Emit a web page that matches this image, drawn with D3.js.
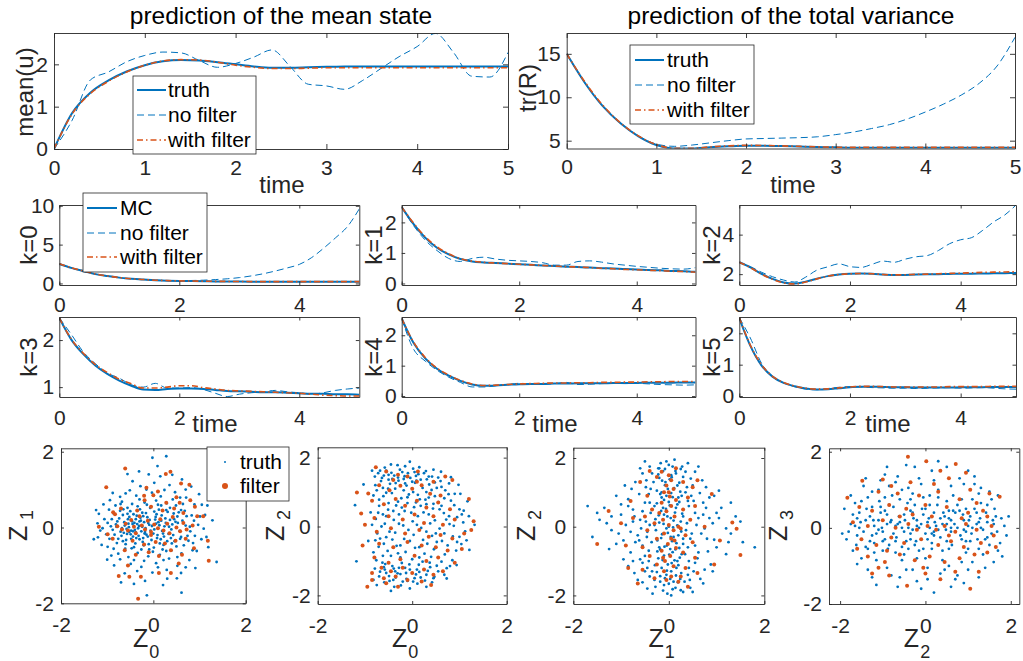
<!DOCTYPE html>
<html>
<head>
<meta charset="utf-8">
<script src="https://cdn.jsdelivr.net/npm/d3@7"></script>
<style>
body { margin: 0; background: #fff; }
svg { font-family: "Liberation Sans", Arial, sans-serif; }
</style>
</head>
<body>
<svg width="1023" height="661"></svg>
<script>
// ---- data ----
const time = [0,0.2,0.4,0.6,0.8,1,1.2,1.4,1.6,1.8,2,2.2,2.4,2.6,2.8,3,3.2,3.4,3.6,3.8,4,4.2,4.4,4.6,4.8,5];

const meanTruth    = [0,0.85,1.33,1.62,1.83,1.98,2.07,2.1,2.09,2.05,2.0,1.95,1.92,1.92,1.93,1.94,1.95,1.95,1.95,1.95,1.95,1.95,1.95,1.95,1.95,1.95];
const meanNoFilter = [0,0.68,1.63,1.82,2.06,2.21,2.29,2.27,2.09,1.93,2.02,2.17,2.34,1.95,1.53,1.49,1.41,1.62,1.9,2.18,2.42,2.73,2.28,1.72,1.7,2.28];
const meanFilter   = [0,0.83,1.31,1.6,1.82,1.98,2.08,2.11,2.1,2.05,1.98,1.93,1.9,1.9,1.91,1.92,1.92,1.92,1.92,1.92,1.92,1.92,1.92,1.92,1.92,1.92];

const trTruth    = [15,11.7,9.0,7.0,5.5,4.5,4.1,4.1,4.25,4.35,4.42,4.42,4.38,4.32,4.27,4.23,4.2,4.2,4.2,4.2,4.2,4.2,4.2,4.2,4.2,4.2];
const trNoFilter = [15,11.7,9.0,7.0,5.55,4.6,4.35,4.5,4.75,5.0,5.2,5.25,5.3,5.35,5.45,5.7,6.0,6.4,6.85,7.5,8.3,9.2,10.25,11.6,13.6,16.9];
const trFilter   = [15,11.8,9.1,7.05,5.55,4.55,4.12,4.12,4.28,4.4,4.46,4.45,4.4,4.34,4.29,4.25,4.23,4.23,4.23,4.23,4.23,4.23,4.23,4.23,4.23,4.23];

const k0MC       = [2.5,2.0,1.6,1.2,0.95,0.75,0.6,0.5,0.42,0.36,0.32,0.3,0.28,0.26,0.25,0.24,0.23,0.22,0.22,0.22,0.22,0.22,0.22,0.22,0.22,0.22];
const k0NoFilter = [2.5,2.0,1.55,1.2,0.95,0.75,0.6,0.5,0.42,0.37,0.35,0.38,0.42,0.5,0.6,0.75,0.97,1.25,1.6,2.0,2.45,3.3,4.5,5.85,7.3,9.6];
const k0Filter   = [2.55,2.02,1.6,1.22,0.96,0.76,0.6,0.5,0.42,0.37,0.33,0.31,0.29,0.27,0.26,0.25,0.24,0.24,0.24,0.24,0.24,0.24,0.24,0.24,0.24,0.24];

const k1MC       = [2.5,1.95,1.5,1.17,0.95,0.8,0.72,0.69,0.67,0.65,0.63,0.61,0.59,0.57,0.55,0.54,0.52,0.5,0.49,0.47,0.46,0.44,0.43,0.41,0.4,0.38];
const k1NoFilter = [2.5,1.9,1.42,1.08,0.82,0.72,0.82,0.86,0.8,0.76,0.74,0.72,0.68,0.6,0.6,0.72,0.74,0.7,0.64,0.6,0.56,0.53,0.5,0.48,0.47,0.52];
const k1Filter   = [2.5,1.98,1.53,1.2,0.97,0.81,0.73,0.69,0.67,0.65,0.63,0.61,0.59,0.57,0.55,0.54,0.52,0.5,0.48,0.46,0.45,0.43,0.42,0.4,0.39,0.37];

const k2MC       = [2.6,2.34,2.02,1.76,1.58,1.52,1.62,1.77,1.9,1.98,2.02,2.03,2.02,1.98,1.95,1.96,1.98,1.99,2.0,2.01,2.02,2.02,2.03,2.04,2.05,2.06];
const k2NoFilter = [2.6,2.38,2.1,1.87,1.7,1.6,1.85,2.2,2.37,2.52,2.38,2.34,2.5,2.66,2.6,2.76,2.88,2.94,3.2,3.54,3.74,3.85,4.22,4.65,5.0,5.5];
const k2Filter   = [2.6,2.33,2.0,1.74,1.56,1.5,1.6,1.76,1.9,1.98,2.02,2.03,2.02,1.98,1.96,1.97,1.99,2.0,2.02,2.04,2.05,2.07,2.09,2.1,2.11,2.12];

const k3MC       = [2.47,2.01,1.7,1.46,1.28,1.14,1.03,0.95,0.94,0.96,0.97,0.97,0.96,0.94,0.92,0.91,0.9,0.89,0.89,0.88,0.87,0.86,0.86,0.85,0.85,0.84];
const k3NoFilter = [2.47,2.12,1.75,1.5,1.3,1.19,1.05,1.0,1.08,0.98,0.98,0.99,0.95,0.87,0.8,0.85,0.88,0.9,0.93,0.9,0.88,0.85,0.88,0.93,0.96,0.98];
const k3Filter   = [2.47,2.02,1.72,1.48,1.31,1.17,1.07,0.98,0.98,1.0,1.03,1.03,0.99,0.96,0.93,0.92,0.91,0.9,0.89,0.88,0.87,0.85,0.83,0.82,0.81,0.81];

const k4MC       = [2.55,1.75,1.24,0.9,0.67,0.5,0.38,0.34,0.35,0.37,0.39,0.4,0.4,0.41,0.41,0.42,0.42,0.42,0.43,0.43,0.43,0.44,0.44,0.44,0.45,0.45];
const k4NoFilter = [2.55,1.55,1.15,0.85,0.62,0.45,0.3,0.3,0.34,0.38,0.42,0.4,0.38,0.41,0.45,0.38,0.39,0.41,0.42,0.41,0.42,0.4,0.38,0.37,0.36,0.37];
const k4Filter   = [2.55,1.78,1.27,0.92,0.69,0.52,0.4,0.35,0.36,0.38,0.4,0.41,0.42,0.43,0.43,0.44,0.44,0.45,0.45,0.46,0.46,0.47,0.47,0.48,0.48,0.48];

const k5MC       = [2.48,1.6,0.98,0.62,0.42,0.31,0.24,0.21,0.22,0.25,0.28,0.3,0.3,0.29,0.28,0.28,0.27,0.27,0.27,0.27,0.28,0.28,0.28,0.29,0.29,0.29];
const k5NoFilter = [2.5,1.85,1.05,0.62,0.42,0.3,0.22,0.2,0.24,0.28,0.3,0.29,0.27,0.26,0.25,0.25,0.24,0.25,0.26,0.27,0.25,0.26,0.27,0.25,0.23,0.22];
const k5Filter   = [2.5,1.62,1.0,0.63,0.43,0.32,0.25,0.22,0.23,0.26,0.29,0.31,0.31,0.3,0.29,0.29,0.29,0.29,0.29,0.3,0.3,0.3,0.3,0.31,0.31,0.31];

// scatter samples [x, y]
const z01Truth = [[-0.62,0.05],[-0.48,-0.08],[-0.41,0.12],[-0.33,-0.02],[-0.27,0.18],[-0.18,-0.12],[-0.09,0.07],[0.02,-0.05],[0.11,0.14],[0.19,-0.09],
[-0.71,-0.11],[-0.55,0.22],[-0.44,-0.24],[-0.36,0.31],[-0.22,-0.28],[-0.13,0.27],[-0.04,-0.33],[0.07,0.35],[0.16,-0.31],[0.26,0.24],
[0.33,-0.17],[-0.66,0.33],[-0.78,0.16],[-0.84,-0.19],[-0.59,-0.33],[-0.5,0.43],[-0.39,-0.42],[-0.29,0.48],[-0.21,-0.47],[-0.07,0.52],
[0.01,-0.53],[0.12,0.47],[0.22,-0.46],[0.31,0.41],[0.41,0.08],[0.46,-0.36],[0.52,0.29],[0.57,-0.09],[0.63,0.18],[-0.92,0.03],
[-0.86,0.37],[-0.46,0.62],[-0.19,0.66],[0.06,0.71],[0.29,0.64],[0.49,0.58],[0.68,0.44],[0.74,-0.22],[0.66,-0.47],[0.39,-0.61],
[0.14,-0.72],[-0.11,-0.76],[-0.34,-0.67],[-0.61,-0.56],[-0.79,-0.41],[-1.02,-0.18],[-1.06,0.22],[-0.96,0.47],[-0.53,0.01],[-0.38,-0.13],
[-0.24,0.02],[-0.15,-0.19],[0.04,0.21],[-0.68,-0.02],[-0.57,-0.17],[-0.45,0.09],[-0.3,-0.31],[0.24,0.03],[0.38,-0.28],[0.44,0.37],
[-1.21,0.11],[-1.12,-0.46],[-0.91,-0.74],[-0.72,0.81],[-0.51,0.98],[-0.28,1.09],[0.02,1.18],[0.24,0.99],[0.47,0.93],[0.71,0.79],
[0.89,0.61],[1.01,0.29],[1.09,-0.03],[1.04,-0.31],[0.94,-0.62],[0.78,-0.86],[0.52,-1.01],[0.29,-1.12],[-0.02,-1.19],[-0.26,-1.04],
[-0.49,-0.96],[-0.76,-0.69],[1.19,-0.52],[1.28,0.19],[1.37,-0.91],[-1.29,-0.31],[-0.31,1.48],[0.09,1.62],[0.41,1.39],[-0.56,1.41],
[-0.18,-1.41],[0.21,-1.52],[-0.42,-1.49],[0.51,-1.34],[0.82,1.08],[0.99,0.88],[-0.88,0.91],[-1.08,0.61],[0.62,1.27],[-0.62,-1.21],
[0.91,-1.07],[1.17,0.58],[-1.24,0.46],[0.28,1.88],[-0.14,-1.79],[0.61,-1.72],[-0.02,1.84],[0.83,0.32],[0.79,0.02],[0.86,-0.41],
[0.58,0.79],[-0.03,0.92],[-0.37,0.84],[-0.71,0.62],[-0.99,-0.51],[-0.42,-0.86],[0.06,-0.94],[0.34,-0.82],[0.61,-0.68],[0.97,0.07],
[-0.65,0.48],[-0.24,0.39],[0.17,0.58],[0.53,0.12],[0.28,-0.62],[-0.09,-0.58],[-0.47,-0.55],[-0.82,0.58],[1.12,0.33],[-1.15,-0.08],
[-0.88,-0.06],[-0.81,0.08],[-0.74,0.24],[-0.69,-0.22],[-0.63,0.14],[-0.58,-0.04],[-0.52,0.28],[-0.49,-0.18],[-0.43,0.35],[-0.4,-0.06],
[-0.35,0.09],[-0.32,-0.22],[-0.28,0.26],[-0.26,-0.1],[-0.2,0.14],[-0.17,-0.02],[-0.12,-0.24],[-0.08,0.2],[-0.03,0.04],[0.0,-0.16],
[0.05,0.28],[0.09,-0.2],[0.13,0.06],[0.18,0.32],[0.21,-0.16],[0.27,0.12],[0.3,-0.36],[0.36,0.2],[0.39,-0.05],[0.43,-0.2],
[0.48,0.15],[0.55,0.4],[0.6,-0.25],[0.7,0.05],[-0.95,-0.3],[-0.9,0.22],[-0.76,-0.3],[-0.72,0.44],[-0.6,-0.44],[-0.56,0.52],
[-0.42,-0.52],[-0.34,0.56],[-0.26,-0.58],[-0.14,0.6],[-0.01,-0.64],[0.1,0.6],[0.2,-0.58],[0.36,0.52],[0.5,-0.5],[0.6,0.46],
[0.72,0.3],[0.8,-0.1],[0.76,-0.35],[0.58,-0.3],[-0.99,0.12],[-1.1,-0.02],[-0.86,-0.56],[-0.68,0.68],[-0.3,0.74],[0.16,0.82],
[0.42,0.74],[0.64,0.62],[0.88,0.18],[0.9,-0.22],[0.52,-0.78],[0.22,-0.86],[-0.2,-0.88],[-0.54,-0.78],[-0.72,-0.84],[-0.94,0.72],
[-1.18,0.36],[-1.2,-0.26],[-0.6,0.9],[-0.15,1.0],[0.35,1.12],[0.7,1.0],[1.05,0.6],[1.15,-0.25],[0.7,-1.05],[0.1,-1.05],
[-0.35,-1.15],[-0.85,-1.0],[-0.45,1.22],[0.15,1.35],[0.85,-0.6],[-1.0,-0.85],[0.3,-1.35],[-0.1,1.4],[0.6,-1.2],[-0.7,-1.45],
[-0.52,-0.12],[-0.46,0.16],[-0.37,-0.28],[-0.31,0.04],[-0.23,-0.38],[-0.16,0.38],[-0.06,-0.08],[0.06,0.1],[0.14,-0.42],[0.28,0.46],
[-0.64,-0.14],[-0.54,0.1],[-0.48,-0.3],[-0.38,0.22],[-0.19,-0.16],[-0.11,0.12],[0.08,-0.28],[0.17,0.18],[0.34,0.02],[0.45,0.22],
[-0.8,0.02],[-0.66,-0.36],[-0.56,0.36],[-0.44,-0.1],[-0.3,0.16],[-0.22,0.3],[-0.1,-0.44],[0.02,0.42],[0.23,-0.24],[0.4,-0.42]];
const z01Filter = [[-0.61,1.56],[-1.02,1.06],[0.27,1.41],[0.37,1.47],[0.6,1.16],[0.78,1.13],[-0.2,0.84],[-0.19,0.72],[0.0,0.85],[0.5,0.8],
[0.57,0.65],[0.8,0.72],[0.9,0.55],[1.08,0.3],[0.95,0.3],[-0.87,0.4],[-0.83,0.35],[-1.18,0.02],[-0.99,-0.18],[-0.78,0.03],
[-0.68,-0.05],[-0.6,0.1],[-0.55,-0.08],[-0.48,0.2],[-0.42,0.02],[-0.38,-0.15],[-0.3,0.3],[-0.25,0.05],[-0.18,-0.05],[-0.12,0.18],
[-0.05,-0.12],[0.02,0.08],[0.1,-0.02],[0.15,0.22],[0.22,-0.08],[0.3,0.1],[0.35,-0.15],[0.42,0.28],[0.5,0.0],[0.58,-0.1],
[0.65,0.12],[0.72,-0.05],[0.85,0.05],[-0.35,0.45],[-0.05,0.55],[0.2,0.45],[0.45,0.5],[-0.45,-0.35],[-0.2,-0.45],[0.05,-0.38],
[0.25,-0.42],[0.48,-0.35],[0.7,-0.3],[-0.62,-0.6],[-0.38,-0.72],[-0.1,-0.65],[0.12,-0.75],[0.38,-0.6],[0.62,-0.72],[0.88,-0.55],
[1.2,-0.88],[1.18,-0.35],[-0.55,-1.0],[-0.75,-1.28],[-0.52,-1.3],[-0.27,-1.3],[0.12,-1.2],[0.38,-1.2],[0.55,-0.95],[-0.33,-1.88],
[-0.05,-0.2],[0.28,0.65],[-0.7,0.5],[0.1,0.95],[-0.15,1.05],[0.65,0.38],[-0.88,-0.3]];

const z02Truth = [[-0.72,1.55],[-0.55,1.62],[-0.38,1.48],[-0.21,1.58],[-0.04,1.41],[0.13,1.52],[0.31,1.37],[0.48,1.28],[-0.66,1.32],[-0.47,1.24],
[-0.29,1.33],[-0.12,1.19],[0.06,1.27],[0.22,1.12],[0.41,1.06],[0.62,1.15],[0.77,0.94],[-0.58,1.71],[-0.31,1.78],[0.02,1.68],
[0.29,1.61],[-0.75,1.05],[-0.61,0.88],[-0.43,0.97],[-0.23,0.82],[-0.07,0.93],[0.16,0.79],[0.35,0.84],[0.56,0.71],[0.89,0.62],
[-0.7,0.6],[-0.51,0.49],[-0.34,0.61],[-0.16,0.45],[0.04,0.56],[0.24,0.41],[0.44,0.52],[0.67,0.39],[0.95,0.27],[1.08,0.12],
[-0.77,0.22],[-0.58,0.08],[-0.39,0.19],[-0.19,0.03],[0.01,0.15],[0.19,-0.04],[0.38,0.09],[0.58,-0.06],[0.79,0.07],[1.12,-0.14],
[-0.74,-0.2],[-0.55,-0.31],[-0.36,-0.18],[-0.17,-0.36],[0.03,-0.24],[0.23,-0.39],[0.42,-0.27],[0.63,-0.42],[0.86,-0.29],[1.04,-0.51],
[-0.71,-0.59],[-0.52,-0.71],[-0.33,-0.56],[-0.14,-0.74],[0.06,-0.62],[0.26,-0.79],[0.46,-0.66],[0.69,-0.81],[0.93,-0.7],[-0.76,-0.98],
[-0.57,-1.09],[-0.39,-1.22],[-0.22,-1.06],[-0.05,-1.25],[0.14,-1.11],[0.33,-1.29],[0.52,-1.14],[0.73,-1.21],[-0.68,-1.31],[-0.49,-1.44],
[-0.31,-1.36],[-0.12,-1.52],[0.08,-1.39],[0.27,-1.57],[0.47,-1.46],[-0.59,-1.62],[-0.24,-1.71],[0.11,-1.66],[-0.82,-1.55],[-0.45,-1.87],
[-1.18,-1.01],[-1.21,0.62],[1.32,0.05],[1.21,-0.68],[1.17,0.73],[-1.03,1.22],[-0.93,-0.42],[-0.88,0.41],[0.98,1.21],[0.82,1.43],
[0.61,1.59],[-0.05,1.88],[0.73,-1.51],[0.94,-1.12],[1.09,0.46],[-0.64,1.41],[-0.42,1.38],[-0.16,1.46],[0.09,1.33],[-0.51,1.1],
[-0.36,-1.3],[-0.6,-1.18],[-0.15,-1.2],[0.05,-1.5],[-0.4,-1.55],[0.37,-1.05],[-0.68,-0.35],[0.12,0.3],[-0.28,0.35],[0.5,-0.2],
[0.3,0.65],[-0.45,-0.85],[0.55,1.42],[-0.1,0.68],[0.72,0.2],[-0.62,0.35],[0.15,-0.9],[-0.25,-0.9],[1.02,0.95],[0.85,-0.98],
[-0.79,1.45],[-0.68,1.62],[-0.6,1.48],[-0.5,1.36],[-0.44,1.56],[-0.35,1.26],[-0.26,1.65],[-0.18,1.38],[-0.09,1.55],[0.0,1.3],
[0.08,1.47],[0.18,1.36],[0.25,1.55],[0.36,1.22],[0.42,1.45],[0.52,1.12],[0.6,1.32],[0.7,1.05],[0.78,1.25],[0.9,0.95],
[-0.78,1.2],[-0.62,1.12],[-0.55,0.98],[-0.36,1.1],[-0.18,1.05],[0.02,1.0],[0.12,0.92],[0.3,1.0],[0.48,0.88],[0.68,0.82],
[-0.79,-1.22],[-0.7,-1.45],[-0.63,-1.05],[-0.55,-1.35],[-0.48,-1.58],[-0.42,-1.15],[-0.35,-1.48],[-0.28,-1.2],[-0.2,-1.6],[-0.13,-1.35],
[-0.06,-1.1],[0.02,-1.6],[0.1,-1.25],[0.18,-1.48],[0.22,-1.02],[0.3,-1.4],[0.38,-1.18],[0.42,-1.62],[0.55,-1.3],[0.62,-1.02],
[0.68,-1.4],[0.8,-1.15],[-0.75,-1.7],[-0.38,-1.75],[-0.05,-1.8],[0.3,-1.75],[-0.62,-0.85],[-0.3,-0.78],[0.0,-0.95],[0.4,-0.88],
[-0.78,-0.4],[-0.6,-0.5],[-0.42,-0.38],[-0.25,-0.55],[-0.05,-0.42],[0.15,-0.6],[0.32,-0.5],[0.52,-0.45],[0.75,-0.55],[0.95,-0.45],
[-0.65,0.0],[-0.48,-0.15],[-0.28,0.08],[-0.08,-0.1],[0.1,0.05],[0.3,-0.15],[0.48,0.18],[0.68,-0.2],[0.88,0.02],[1.0,-0.3],
[-0.72,0.4],[-0.55,0.3],[-0.4,0.45],[-0.22,0.55],[-0.02,0.4],[0.18,0.6],[0.35,0.35],[0.58,0.5],[0.78,0.3],[1.0,0.5],
[-0.7,0.78],[-0.5,0.68],[-0.3,0.72],[-0.1,0.85],[0.08,0.7],[0.28,0.78],[0.45,0.66],[0.62,0.6],[0.82,0.75],[1.05,0.35],
[-0.85,1.62],[-0.45,1.8],[-0.15,1.75],[0.15,1.72],[0.45,1.65],[-0.82,-0.75],[-0.85,0.05],[-0.82,0.9],[1.15,-0.4],[1.2,0.3],
[-0.5,1.5],[-0.3,1.42],[-0.15,1.25],[0.05,1.58],[0.35,1.45],[-0.58,-1.25],[-0.25,-1.38],[-0.1,-1.58],[0.15,-1.32],[0.45,-1.5]];
const z02Filter = [[-0.77,1.72],[-0.55,1.6],[-0.3,1.5],[-0.1,1.45],[0.12,1.6],[0.45,1.3],[0.7,1.45],[0.85,1.35],[-1.17,0.99],[-0.93,0.96],
[-0.7,1.2],[-0.48,1.05],[-0.25,1.18],[0.0,1.1],[0.2,1.2],[0.38,0.95],[0.6,0.9],[-0.85,0.75],[-0.6,0.65],[-0.35,0.8],
[-0.15,0.6],[0.1,0.75],[0.3,0.55],[0.55,0.7],[0.8,0.5],[1.2,0.8],[-1.08,0.38],[-1.0,0.05],[-0.8,0.25],[-0.5,0.3],
[-0.2,0.2],[0.05,0.35],[0.25,0.1],[0.45,0.3],[0.65,0.05],[0.9,0.2],[1.25,-0.1],[1.3,0.15],[-0.75,-0.15],[-0.45,-0.05],
[-0.15,-0.2],[0.15,-0.1],[0.35,-0.3],[0.6,-0.25],[0.85,-0.35],[1.1,-0.2],[-1.05,-0.55],[-0.7,-0.5],[-0.4,-0.6],[-0.1,-0.45],
[0.2,-0.55],[0.5,-0.6],[0.75,-0.7],[1.05,-0.65],[-0.8,-0.9],[-0.5,-1.05],[-0.25,-0.95],[0.05,-0.85],[0.3,-1.0],[0.55,-0.9],
[0.9,-1.05],[-0.85,-1.35],[-0.65,-1.2],[-0.45,-1.3],[-0.2,-1.2],[0.0,-1.35],[0.25,-1.25],[0.45,-1.4],[-0.85,-1.55],[-0.6,-1.5],
[-0.35,-1.45],[-0.1,-1.55],[0.2,-1.6],[-0.55,-1.65],[-0.95,-1.75],[-0.3,-1.75],[0.4,-1.7],[0.65,-1.3],[0.1,1.3],[-0.4,1.35]];

const z12Truth = [[-0.05,1.9],[0.08,1.75],[-0.12,1.62],[0.15,1.55],[-0.2,1.42],[0.02,1.38],[0.22,1.28],[-0.08,1.21],[0.11,1.12],[-0.25,1.05],
[0.05,0.98],[0.27,0.9],[-0.15,0.85],[0.0,0.72],[0.18,0.65],[-0.3,0.6],[-0.06,0.52],[0.13,0.41],[-0.21,0.33],[0.04,0.25],
[0.25,0.15],[-0.11,0.08],[0.09,-0.02],[-0.27,-0.1],[-0.02,-0.18],[0.2,-0.25],[-0.16,-0.33],[0.07,-0.42],[0.3,-0.5],[-0.09,-0.58],
[0.14,-0.66],[-0.24,-0.72],[0.01,-0.81],[0.23,-0.9],[-0.13,-0.97],[0.06,-1.06],[-0.29,-1.12],[0.16,-1.2],[-0.04,-1.28],[0.26,-1.35],
[-0.18,-1.44],[0.03,-1.52],[0.19,-1.62],[-0.1,-1.7],[0.08,-1.82],[-0.03,-1.95],[0.12,1.95],[-0.17,1.85],[0.3,1.45],[-0.32,1.3],
[0.35,1.0],[-0.38,0.4],[0.36,-0.1],[-0.36,-0.45],[0.34,-0.8],[-0.35,-1.3],[0.33,-1.6],[-0.28,-1.75],[0.05,1.5],[-0.1,0.35],
[-0.55,1.55],[-0.7,1.3],[-0.48,1.15],[-0.62,0.95],[-0.85,0.8],[-0.5,0.7],[-0.75,0.5],[-1.0,0.35],[-0.6,0.2],[-0.9,0.05],
[-1.2,-0.1],[-0.65,-0.25],[-0.95,-0.4],[-0.55,-0.55],[-0.8,-0.75],[-0.6,-0.95],[-0.85,-1.15],[-0.5,-1.3],[-0.65,-1.55],[-0.45,-1.8],
[0.55,1.6],[0.7,1.35],[0.5,1.2],[0.65,0.98],[0.85,0.85],[0.52,0.75],[0.78,0.55],[1.0,0.4],[0.62,0.25],[0.92,0.1],
[1.2,-0.05],[0.68,-0.2],[0.95,-0.38],[0.55,-0.55],[0.82,-0.72],[0.6,-0.92],[0.88,-1.1],[0.52,-1.3],[0.66,-1.52],[0.45,-1.78],
[-1.45,0.2],[-1.6,-0.3],[-1.35,0.55],[1.4,0.3],[1.55,-0.45],[1.3,0.7],[-1.25,-0.65],[1.2,-0.8],[-1.1,0.9],[1.05,1.05],
[-0.4,1.75],[0.4,1.85],[-0.2,1.7],[0.25,1.68],[-0.42,0.95],[0.42,0.6],[-0.45,-0.15],[0.45,-0.35],[-0.42,-1.0],[0.42,-1.2],
[-0.3,-1.55],[0.3,-1.9],[-0.75,0.15],[0.75,-0.05],[-1.05,-0.2],[1.05,0.25],[-0.7,-0.45],[0.72,0.35],[-0.3,0.05],[0.3,0.3],
[-0.15,1.0],[0.18,-1.0],[-0.2,-0.6],[0.2,0.85],[-0.05,-1.4],[0.0,0.0],[-0.12,0.55],[0.1,-0.3],[1.8,-0.6],[-1.7,0.6],
[0.0,1.8],[-0.08,1.68],[0.14,1.62],[-0.22,1.52],[0.06,1.44],[-0.14,1.34],[0.18,1.2],[-0.02,1.1],[0.24,1.02],[-0.18,0.95],
[0.08,0.86],[-0.1,0.78],[0.22,0.72],[-0.25,0.68],[0.02,0.62],[0.15,0.55],[-0.16,0.46],[0.28,0.38],[-0.03,0.3],[0.1,0.18],
[-0.2,0.12],[0.18,0.04],[-0.05,-0.05],[0.26,-0.14],[-0.14,-0.22],[0.04,-0.3],[-0.24,-0.4],[0.16,-0.48],[-0.04,-0.55],[0.22,-0.62],
[-0.18,-0.66],[0.08,-0.74],[-0.1,-0.84],[0.27,-0.8],[-0.22,-0.92],[0.12,-0.98],[-0.02,-1.1],[0.2,-1.12],[-0.15,-1.2],[0.05,-1.3],
[-0.25,-1.32],[0.15,-1.42],[-0.08,-1.5],[0.24,-1.52],[-0.18,-1.6],[0.0,-1.66],[0.14,-1.78],[-0.12,-1.86],[0.05,-2.0],[-0.22,1.7],
[0.28,1.75],[0.35,1.6],[-0.35,1.55],[0.38,1.15],[-0.38,1.1],[0.4,0.75],[-0.4,0.7],[0.38,0.1],[-0.4,0.05],[0.4,-0.6],
[-0.42,-0.7],[0.42,-1.0],[-0.4,-1.45],[0.4,-1.4],[-0.34,-1.95],[0.25,-1.85],[-0.05,0.9],[0.03,-0.65],[-0.07,1.3],[0.1,-1.6],
[-0.6,1.7],[-0.78,1.1],[-0.55,0.45],[-0.72,0.3],[-0.85,0.6],[-0.58,-0.05],[-0.8,-0.15],[-0.62,-0.4],[-0.75,-1.0],[-0.55,-1.05],
[-0.72,-1.35],[-0.55,-1.62],[0.62,1.75],[0.78,1.15],[0.55,0.4],[0.72,0.7],[0.85,0.25],[0.58,0.05],[0.8,-0.35],[0.62,-0.75],
[0.75,-1.25],[0.55,-1.05],[0.72,-1.65],[-1.0,0.65],[-1.1,-0.5],[1.0,-0.6],[1.1,0.55],[-0.95,-0.95],[0.95,0.9],[-1.3,0.1],
[1.3,-0.2],[-1.5,0.4],[1.5,0.15],[-1.2,0.3],[1.25,-0.45],[-0.92,1.2],[0.92,-1.3],[-0.5,1.9],[0.5,-1.9],[-0.48,0.15],
[0.47,0.9],[-0.46,-0.3],[0.48,-0.2],[-0.5,-0.85],[0.46,1.4],[-0.47,1.35],[0.44,-1.55],[-0.45,-1.2],[-0.28,0.22],[0.3,-0.35]];
const z12Filter = [[0.0,1.5],[0.05,1.35],[-0.05,1.2],[0.1,1.1],[-0.1,1.0],[0.02,0.88],[0.15,0.78],[-0.15,0.7],[0.05,0.6],[-0.05,0.45],
[0.12,0.3],[-0.12,0.2],[0.0,0.05],[0.1,-0.1],[-0.1,-0.2],[0.05,-0.35],[-0.02,-0.5],[0.15,-0.62],[-0.15,-0.7],[0.03,-0.85],
[-0.08,-1.0],[0.1,-1.15],[-0.1,-1.3],[0.05,-1.45],[-0.05,-1.55],[0.2,-1.6],[-0.4,1.62],[-0.25,1.45],[0.3,1.3],[0.5,1.15],
[0.6,1.35],[-0.6,1.3],[-0.8,0.75],[-0.45,0.9],[0.4,0.85],[0.55,0.6],[-0.35,0.5],[0.3,0.5],[-0.5,0.3],[0.45,0.2],
[-0.3,0.1],[0.25,-0.05],[-0.45,-0.1],[0.35,-0.25],[-0.25,-0.35],[0.5,-0.45],[-0.55,-0.6],[0.3,-0.75],[-0.4,-0.85],[0.55,-0.9],
[-0.25,-1.1],[0.35,-1.2],[-0.55,-1.25],[0.6,-1.35],[-0.3,-1.5],[0.25,-1.45],[-0.65,-1.65],[0.4,-1.75],[-1.5,-0.5],[-1.26,0.46],
[1.33,0.12],[1.42,-0.06],[1.5,-0.82],[1.07,-0.4],[-1.0,0.1],[-0.9,-0.55],[-0.85,-1.2],[0.95,-1.1],[0.9,0.95],[0.75,0.0],
[-0.75,0.25],[-0.15,1.6],[0.15,1.7],[0.2,0.0],[-0.2,0.4],[0.12,-0.4],[-0.12,-0.9],[0.0,1.0]];

const z23Truth = [[-1.75,0.1],[-1.6,-0.2],[-1.55,0.4],[-1.4,-0.5],[-1.35,0.8],[-1.2,0.05],[-1.15,-0.85],[-1.05,0.55],[-0.95,-0.3],[-0.85,1.1],
[-0.8,0.2],[-0.7,-0.65],[-0.6,0.75],[-0.5,-0.1],[-0.45,-1.1],[-0.35,0.45],[-0.25,-0.45],[-0.15,1.3],[-0.1,0.1],[0.0,-0.8],
[0.1,0.6],[0.2,-0.2],[0.3,1.0],[0.35,-1.2],[0.45,0.3],[0.55,-0.55],[0.65,0.85],[0.75,0.0],[0.85,-0.9],[0.95,0.5],
[1.05,-0.35],[1.15,1.15],[1.25,0.15],[1.35,-0.7],[1.45,0.6],[1.55,-0.15],[1.65,0.3],[1.75,-0.4],[1.85,0.05],[-1.85,-0.3],
[-1.65,0.65],[-1.5,-0.8],[-1.3,0.3],[-1.25,-0.2],[-1.1,1.0],[-1.0,-0.6],[-0.9,0.35],[-0.75,-0.15],[-0.65,1.35],[-0.55,-0.85],
[-0.4,0.0],[-0.3,0.9],[-0.2,-1.4],[-0.05,0.35],[0.05,-0.3],[0.15,1.5],[0.25,0.05],[0.4,-0.85],[0.5,0.7],[0.6,-0.1],
[0.7,-1.35],[0.8,1.3],[0.9,0.2],[1.0,-1.1],[1.1,0.75],[1.2,-0.05],[1.3,1.05],[1.4,-0.3],[1.5,0.95],[1.6,-0.9],
[-1.45,1.1],[-1.7,-0.6],[-1.35,-1.1],[-0.95,1.4],[-0.8,-1.25],[-0.45,1.65],[-0.1,-1.6],[0.3,1.75],[0.6,-1.55],[1.0,1.5],
[1.25,-1.3],[1.7,0.85],[1.8,-0.75],[-1.9,0.5],[-1.55,0.0],[-1.1,0.2],[-0.7,0.05],[-0.3,-0.05],[0.1,0.0],[0.5,0.1],
[0.9,-0.05],[1.3,0.0],[-1.4,0.2],[-1.0,-0.1],[-0.6,0.15],[-0.2,0.2],[0.2,-0.1],[0.6,0.2],[1.0,0.05],[1.45,0.15],
[-1.2,-0.4],[-0.85,0.6],[-0.5,0.35],[-0.15,-0.6],[0.2,0.4],[0.55,0.45],[0.85,-0.3],[1.2,0.4],[-1.6,0.25],[1.6,0.1],
[-0.35,-0.3],[0.35,0.25],[-0.95,0.8],[0.95,-0.65],[-0.05,0.8],[0.05,-1.05],[-0.55,1.0],[0.55,-1.0],[-1.25,0.55],[1.25,-0.55],
[-0.7,-0.35],[0.7,0.4],[0.4,0.1],[-0.4,-0.55],[1.05,0.3],[-1.05,0.4],[0.0,0.5],[-0.85,-0.45],[0.15,-0.55],[-0.25,0.6],
[-1.8,-0.1],[-1.7,0.35],[-1.62,-0.45],[-1.52,0.15],[-1.45,-0.1],[-1.38,0.5],[-1.3,-0.35],[-1.22,0.2],[-1.15,-0.15],[-1.08,0.7],
[-1.02,0.0],[-0.95,0.45],[-0.88,-0.55],[-0.82,0.15],[-0.75,0.55],[-0.68,-0.25],[-0.62,0.3],[-0.55,-0.5],[-0.48,0.2],[-0.42,0.65],
[-0.35,-0.15],[-0.28,0.25],[-0.22,-0.35],[-0.15,0.0],[-0.08,0.5],[0.0,-0.15],[0.08,0.25],[0.15,-0.4],[0.22,0.15],[0.28,0.6],
[0.35,-0.25],[0.42,0.4],[0.48,-0.05],[0.55,0.25],[0.62,-0.45],[0.68,0.1],[0.75,0.6],[0.82,-0.2],[0.88,0.35],[0.95,-0.35],
[1.02,0.2],[1.08,-0.15],[1.15,0.5],[1.22,-0.3],[1.28,0.25],[1.35,-0.05],[1.42,0.4],[1.5,-0.45],[1.58,0.2],[1.68,-0.1],
[1.78,0.25],[1.9,-0.2],[-1.75,0.85],[-1.6,-0.95],[-1.4,1.3],[-1.25,-1.3],[-1.05,1.25],[-0.9,-1.05],[-0.7,1.2],[-0.6,-1.3],
[-0.4,1.05],[-0.3,-1.1],[-0.1,1.15],[0.05,-1.35],[0.2,1.25],[0.45,-1.1],[0.6,1.1],[0.75,-1.25],[0.9,1.15],[1.1,-0.9],
[1.25,0.9],[1.4,-1.05],[1.55,0.75],[1.7,-0.6],[-1.25,0.95],[-0.5,-0.7],[0.3,0.8],[1.0,-0.55],[-0.25,1.6],[0.5,1.6],
[-0.65,-1.55],[0.2,-1.7],[1.15,1.35],[-1.15,-1.5],[0.9,-1.45],[-0.9,1.6],[-1.95,-0.15],[1.95,0.3],[-0.05,-0.55],[0.65,0.45],
[-1.35,-0.55],[-0.78,0.85],[0.1,0.85],[1.3,0.65],[-0.2,-0.8],[0.4,-0.6],[-1.0,-0.35],[1.1,0.0],[-0.55,0.0],[0.3,-0.05],
[-1.5,0.7],[-0.35,0.75],[0.85,0.75],[1.62,0.5],[-1.2,-0.65],[-0.45,-0.35],[0.05,0.15],[0.5,-0.35],[1.45,-0.25],[-1.65,0.05],
[-0.9,0.1],[-0.2,0.05],[0.6,0.0],[1.2,0.1],[-1.1,-0.05],[0.95,-0.1],[-0.65,0.1],[0.15,-0.15],[-0.3,0.4],[0.8,0.45]];
const z23Filter = [[-0.41,1.87],[0.02,1.75],[0.71,1.68],[0.35,1.5],[-1.48,1.24],[-1.0,1.27],[-0.35,1.2],[0.55,1.3],[0.95,1.45],[-1.83,0.79],
[1.74,0.82],[1.5,0.9],[1.05,1.0],[-1.1,0.95],[-0.65,0.9],[-0.15,0.85],[0.3,0.95],[0.8,0.75],[1.2,0.65],[-1.55,0.55],
[-1.25,0.45],[-0.85,0.6],[-0.45,0.5],[0.0,0.6],[0.5,0.55],[1.0,0.4],[1.45,0.3],[-1.7,0.15],[-1.35,0.05],[-1.0,0.2],
[-0.7,0.0],[-0.4,0.1],[-0.2,-0.05],[0.05,0.05],[0.25,-0.05],[0.45,0.05],[0.7,-0.1],[0.95,0.1],[1.2,-0.05],[1.55,0.05],
[-1.5,-0.3],[-1.15,-0.45],[-0.8,-0.25],[-0.5,-0.4],[-0.1,-0.3],[0.3,-0.45],[0.6,-0.35],[0.9,-0.5],[1.3,-0.4],[1.6,-0.2],
[-1.35,-0.75],[-0.95,-0.9],[-0.6,-0.7],[-0.25,-0.85],[0.1,-0.75],[0.45,-0.9],[0.8,-0.8],[1.15,-0.7],[1.45,-0.65],[-1.25,-1.2],
[-0.85,-1.25],[-0.43,-1.52],[0.0,-1.2],[0.35,-1.35],[0.7,-1.15],[1.05,-1.6],[1.25,-1.15],[-1.1,-1.05],[-0.05,-1.05],[0.15,0.3],
[-0.6,0.3],[0.85,0.25],[-0.3,0.35],[1.35,0.45],[-1.6,-0.55],[0.55,-0.2],[-0.9,-0.6],[0.2,1.15],[-0.8,1.1],[1.65,-0.5]];

const legendTruth = ['truth', 'no filter', 'with filter'];
const legendMC = ['MC', 'no filter', 'with filter'];
const legendScatter = ['truth', 'filter'];

// ---- drawing ----
const svg = d3.select('svg');
const defs = svg.append('defs');
const blue = '#0072BD', orange = '#D95319', ink = '#262626';
const font = '"Liberation Sans", Arial, sans-serif';

const styles = [
    { stroke: blue, width: 2, dash: null },
    { stroke: blue, width: 1, dash: '7,4' },
    { stroke: orange, width: 1.6, dash: '6,3,1.5,3' }
];

let clipId = 0;

const drawBox = (g, x, y, xt, yt, tl, padX, padY) => {
    const [l, r] = x.range();
    const [b, t] = y.range();
    const fmt = d => String(d);
    g.append('g').attr('transform', `translate(0,${b})`)
        .call(d3.axisBottom(x).tickValues(xt).tickSize(-tl).tickSizeOuter(0).tickPadding(padX).tickFormat(fmt));
    g.append('g').attr('transform', `translate(0,${t})`)
        .call(d3.axisTop(x).tickValues(xt).tickSize(-tl).tickSizeOuter(0).tickFormat(''));
    g.append('g').attr('transform', `translate(${l},0)`)
        .call(d3.axisLeft(y).tickValues(yt).tickSize(-tl).tickSizeOuter(0).tickPadding(padY).tickFormat(fmt));
    g.append('g').attr('transform', `translate(${r},0)`)
        .call(d3.axisRight(y).tickValues(yt).tickSize(-tl).tickSizeOuter(0).tickFormat(''));
    g.selectAll('g').attr('font-family', font).attr('font-size', 21);
    g.selectAll('.tick text').attr('fill', ink);
    g.selectAll('.domain, .tick line').attr('stroke', ink).attr('stroke-width', 0.9);
};

const clipFor = (l, r, t, b) => {
    const id = 'c' + (clipId++);
    defs.append('clipPath').attr('id', id)
        .append('rect').attr('x', l).attr('y', t).attr('width', r - l).attr('height', b - t);
    return `url(#${id})`;
};

const linePanel = p => {
    const x = d3.scaleLinear().domain([0, 5]).range([p.l, p.r]);
    const y = d3.scaleLinear().domain(p.yd).range([p.b, p.t]);
    const g = svg.append('g');
    const plot = g.append('g').attr('clip-path', clipFor(p.l, p.r, p.t, p.b));
    const line = d3.line().x((d, i) => x(time[i])).y(d => y(d)).curve(d3.curveMonotoneX);
    p.series.forEach((s, i) => {
        plot.append('path')
            .attr('d', line(s))
            .attr('fill', 'none')
            .attr('stroke', styles[i].stroke)
            .attr('stroke-width', styles[i].width)
            .attr('stroke-dasharray', styles[i].dash)
            .attr('stroke-linejoin', 'round');
    });
    drawBox(g, x, y, p.xt, p.yt, p.tl, p.padX, p.padY);
    g.append('text')
        .attr('transform', `translate(${p.lx},${p.ly}) rotate(-90)`)
        .attr('text-anchor', 'middle')
        .attr('font-size', 24).attr('fill', ink)
        .text(p.ylabel);
    if (p.xlabel) {
        g.append('text')
            .attr('x', p.xlabel[0]).attr('y', p.xlabel[1])
            .attr('text-anchor', 'middle')
            .attr('font-size', 24).attr('fill', ink)
            .text('time');
    }
};

const panels = [
    { l: 54, r: 508, t: 33, b: 149, yd: [0, 2.74], xt: [0,1,2,3,4,5], yt: [0,1,2], tl: 5, padX: 11, padY: 6,
      series: [meanTruth, meanNoFilter, meanFilter], ylabel: 'mean(u)', lx: 33, ly: 92, xlabel: [282, 193] },
    { l: 566.7, r: 1015, t: 33, b: 148.5, yd: [4.1, 17.4], xt: [0,1,2,3,4,5], yt: [5,10,15], tl: 5, padX: 11, padY: 6,
      series: [trTruth, trNoFilter, trFilter], ylabel: 'tr(R)', lx: 536, ly: 88, xlabel: [793, 193] },
    { l: 59.3, r: 359.3, t: 205, b: 285, yd: [-0.2, 10.1], xt: [0,2,4], yt: [0,5,10], tl: 3.5, padX: 12, padY: 5,
      series: [k0MC, k0NoFilter, k0Filter], ylabel: 'k=0', lx: 37, ly: 245 },
    { l: 401.7, r: 695.5, t: 205, b: 285, yd: [-0.05, 2.57], xt: [0,2,4], yt: [0,1,2], tl: 3.5, padX: 12, padY: 5,
      series: [k1MC, k1NoFilter, k1Filter], ylabel: 'k=1', lx: 382, ly: 245 },
    { l: 739.3, r: 1016, t: 205, b: 285, yd: [1.45, 5.5], xt: [0,2,4], yt: [2,4], tl: 3.5, padX: 12, padY: 5,
      series: [k2MC, k2NoFilter, k2Filter], ylabel: 'k=2', lx: 720, ly: 245 },
    { l: 59.3, r: 359.3, t: 317, b: 397, yd: [0.79, 2.49], xt: [0,2,4], yt: [1,2], tl: 3.5, padX: 13, padY: 5,
      series: [k3MC, k3NoFilter, k3Filter], ylabel: 'k=3', lx: 37, ly: 357, xlabel: [215, 432] },
    { l: 401.7, r: 695.5, t: 317, b: 397, yd: [-0.03, 2.6], xt: [0,2,4], yt: [0,1,2], tl: 3.5, padX: 13, padY: 5,
      series: [k4MC, k4NoFilter, k4Filter], ylabel: 'k=4', lx: 382, ly: 357, xlabel: [555, 432] },
    { l: 739.3, r: 1016, t: 317, b: 397, yd: [-0.03, 2.52], xt: [0,2,4], yt: [0,1,2], tl: 3.5, padX: 13, padY: 5,
      series: [k5MC, k5NoFilter, k5Filter], ylabel: 'k=5', lx: 720, ly: 357, xlabel: [888, 432] }
];
panels.forEach(linePanel);

// titles
svg.append('text').attr('x', 281).attr('y', 24).attr('text-anchor', 'middle')
    .attr('font-size', 24.5).attr('fill', '#000').text('prediction of the mean state');
svg.append('text').attr('x', 791).attr('y', 24).attr('text-anchor', 'middle')
    .attr('font-size', 24.5).attr('fill', '#000').text('prediction of the total variance');

const lineLegend = (box, labels, lineX, textX, baselines) => {
    const g = svg.append('g');
    g.append('rect').attr('x', box[0]).attr('y', box[1])
        .attr('width', box[2] - box[0]).attr('height', box[3] - box[1])
        .attr('fill', '#fff').attr('stroke', ink).attr('stroke-width', 0.8);
    labels.forEach((lab, i) => {
        g.append('line')
            .attr('x1', lineX[0]).attr('x2', lineX[1])
            .attr('y1', baselines[i] - 7).attr('y2', baselines[i] - 7)
            .attr('stroke', styles[i].stroke)
            .attr('stroke-width', styles[i].width)
            .attr('stroke-dasharray', styles[i].dash);
        g.append('text').attr('x', textX).attr('y', baselines[i])
            .attr('font-size', 21).attr('fill', '#000').text(lab);
    });
};
lineLegend([133, 76, 256, 154], legendTruth, [137, 166], 168, [97, 122, 147]);
lineLegend([630, 45, 754, 124], legendTruth, [635, 664], 667, [67, 92, 117]);
lineLegend([83, 193, 207, 272], legendMC, [87, 117], 120, [215, 240, 264]);

// ---- scatter row ----
const scatters = [
    { l: 61, r: 245.7, t: 448.3, b: 603.3, xd: [-2, 2], yd: [-2, 2.09], truth: z01Truth, filter: z01Filter, xs: '0', ys: '1', yl: 27 },
    { l: 317.7, r: 506.7, t: 447.3, b: 604, xd: [-2, 2], yd: [-2.25, 2.3], truth: z02Truth, filter: z02Filter, xs: '0', ys: '2', yl: 284 },
    { l: 573.3, r: 764.3, t: 447.7, b: 604, xd: [-2, 2], yd: [-2.25, 2.3], truth: z12Truth, filter: z12Filter, xs: '1', ys: '2', yl: 535 },
    { l: 829, r: 1019.3, t: 448.3, b: 604, xd: [-2.26, 2.2], yd: [-2, 2.09], truth: z23Truth, filter: z23Filter, xs: '2', ys: '3', yl: 787 }
];

scatters.forEach(p => {
    const x = d3.scaleLinear().domain(p.xd).range([p.l, p.r]);
    const y = d3.scaleLinear().domain(p.yd).range([p.b, p.t]);
    const g = svg.append('g');
    const plot = g.append('g').attr('clip-path', clipFor(p.l, p.r, p.t, p.b));
    plot.selectAll('.tr').data(p.truth).enter().append('circle')
        .attr('cx', d => x(d[0])).attr('cy', d => y(d[1]))
        .attr('r', 1.4).attr('fill', blue);
    plot.selectAll('.fi').data(p.filter).enter().append('circle')
        .attr('cx', d => x(d[0])).attr('cy', d => y(d[1]))
        .attr('r', 2).attr('fill', orange);
    drawBox(g, x, y, [-2, 0, 2], [-2, 0, 2], 3, 14, 7);

    // Z_k labels (the "0" above the x label is the tick label)
    const cx = (p.l + p.r) / 2;
    const xl = g.append('g').attr('fill', ink);
    xl.append('text').attr('x', cx - 5).attr('y', 647).attr('text-anchor', 'end').attr('font-size', 25).text('Z');
    xl.append('text').attr('x', cx - 4).attr('y', 658).attr('font-size', 18).text(p.xs);

    const yl = g.append('g').attr('fill', ink)
        .attr('transform', `translate(${p.yl},541) rotate(-90)`);
    yl.append('text').attr('x', 0).attr('y', 0).attr('font-size', 25).text('Z');
    yl.append('text').attr('x', 21).attr('y', 6).attr('font-size', 18).text(p.ys);
});

// scatter legend
const sl = svg.append('g');
sl.append('rect').attr('x', 207).attr('y', 447).attr('width', 82).attr('height', 54)
    .attr('fill', '#fff').attr('stroke', ink).attr('stroke-width', 0.8);
sl.append('circle').attr('cx', 225).attr('cy', 462).attr('r', 1).attr('fill', blue);
sl.append('circle').attr('cx', 225).attr('cy', 486).attr('r', 3).attr('fill', orange);
legendScatter.forEach((lab, i) => {
    sl.append('text').attr('x', 240).attr('y', [469, 493][i])
        .attr('font-size', 21).attr('fill', '#000').text(lab);
});
</script>
</body>
</html>
